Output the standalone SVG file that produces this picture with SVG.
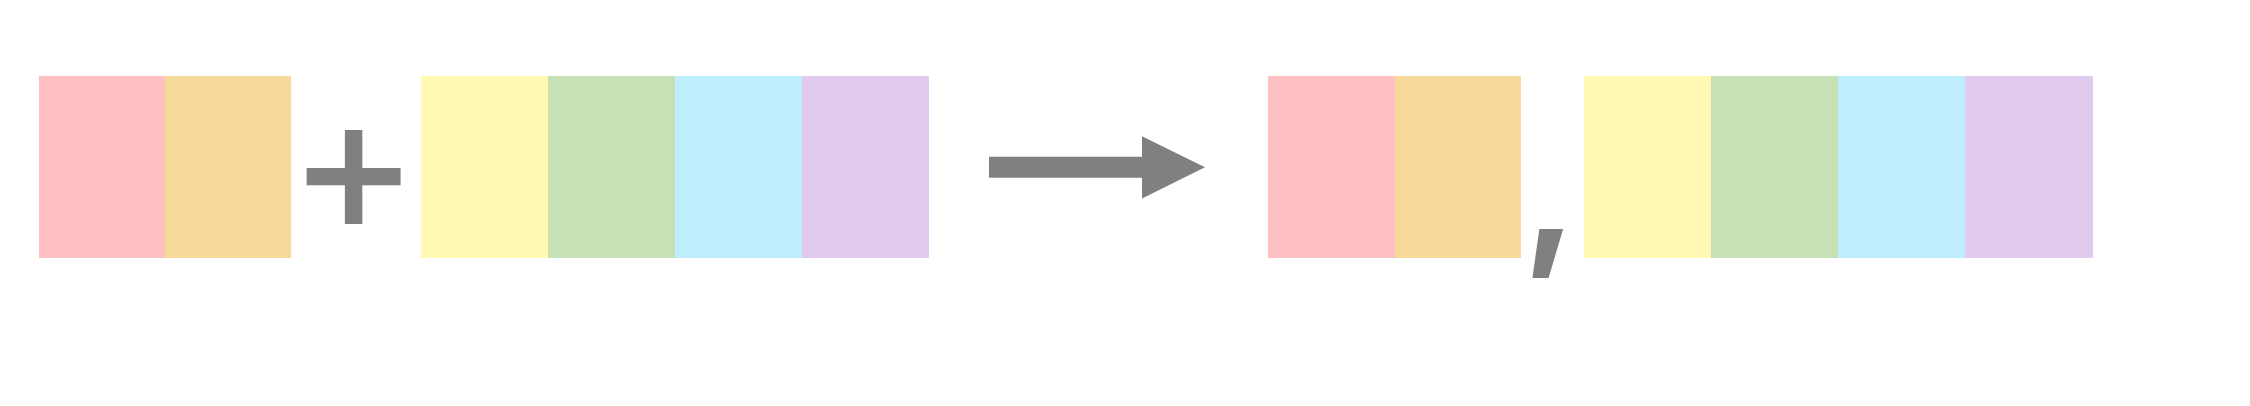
<svg xmlns="http://www.w3.org/2000/svg" width="2250" height="406" viewBox="0 0 2250 406">
<style>
.pk{fill:#FEC0C3}.or{fill:#F7D99A}.ye{fill:#FFF9B3}.gr{fill:#C6E1B6}.bl{fill:#BEEEFE}.pu{fill:#E0CBEE}
.sym{font-family:"DejaVu Sans",sans-serif;font-weight:bold;fill:#808080;text-anchor:middle}
.cm{font-family:Inter,"DejaVu Sans",sans-serif;font-weight:bold;fill:#808080;text-anchor:middle}
</style>
<rect width="2250" height="406" fill="#FFFFFF"/>
<g id="left-a"><rect class="pk" x="39" y="76" width="126" height="182"/><rect class="or" x="165" y="76" width="126" height="182"/></g>
<g id="plus"><text class="sym" x="353.5" y="224" font-size="150">+</text></g>
<g id="left-b"><rect class="ye" x="421" y="76" width="127" height="182"/><rect class="gr" x="548" y="76" width="127" height="182"/><rect class="bl" x="675" y="76" width="127" height="182"/><rect class="pu" x="802" y="76" width="127" height="182"/></g>
<g id="connectors"><polygon fill="#808080" points="989,156.8 1142,156.8 1142,136.2 1205,167.3 1142,198.4 1142,177.8 989,177.8"/></g>
<g id="right-a"><rect class="pk" x="1268" y="76" width="127" height="182"/><rect class="or" x="1395" y="76" width="126" height="182"/></g>
<g id="comma"><text class="cm" x="1550" y="247" font-size="162">,</text></g>
<g id="right-b"><rect class="ye" x="1584" y="76" width="127" height="182"/><rect class="gr" x="1711" y="76" width="127" height="182"/><rect class="bl" x="1838" y="76" width="127" height="182"/><rect class="pu" x="1965" y="76" width="128" height="182"/></g>
</svg>
